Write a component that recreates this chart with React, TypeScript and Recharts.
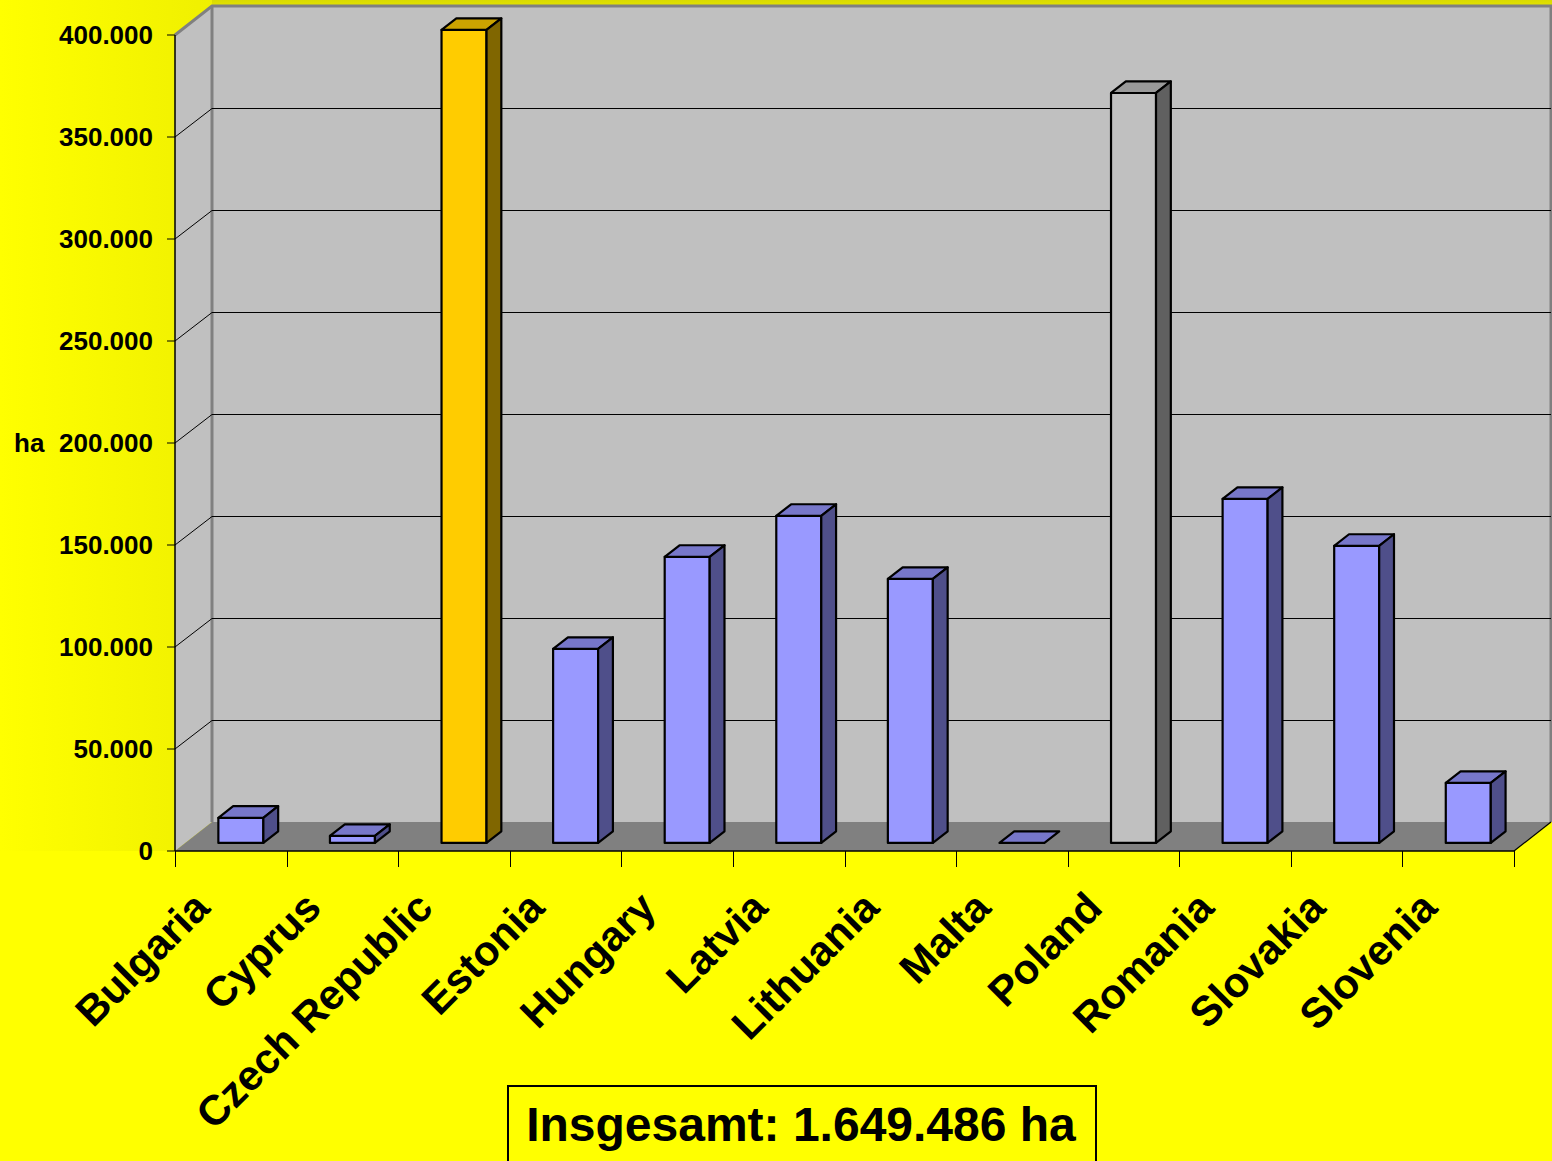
import { BarChart, Bar, XAxis, YAxis, CartesianGrid } from 'recharts';

const countries = [
  'Bulgaria', 'Cyprus', 'Czech Republic', 'Estonia', 'Hungary', 'Latvia',
  'Lithuania', 'Malta', 'Poland', 'Romania', 'Slovakia', 'Slovenia',
];
const hectares = [12300, 3400, 398500, 95100, 140200, 160300, 129400, 0, 367600, 168600, 145600, 29400];
const yTicks = [0, 50000, 100000, 150000, 200000, 250000, 300000, 350000, 400000];
const unitLabel = 'ha';
const totalLabel = 'Insgesamt: 1.649.486 ha';

const data = countries.map((country, i) => ({ country, value: hectares[i] }));

const W = 1552;
const H = 1161;
const FONT = '"Liberation Sans", Arial, Helvetica, sans-serif';

// fake 3d: wall depth and where the boxes sit inside it
const DX = 37;
const DY = 29;
const NEAR = 0.28;
const FAR = 0.68;

const WALL = '#C0C0C0';
const FLOOR = '#808080';
const EDGE = '#808080';

const blue = { front: '#9999FF', top: '#7777CA', side: '#4F4F8A' };
const palette: Record<string, { front: string; top: string; side: string }> = {
  'Czech Republic': { front: '#FFCC00', top: '#CCA300', side: '#806600' },
  Poland: { front: '#C0C0C0', top: '#9A9A9A', side: '#606060' },
};

const fmt = (v: number) => String(v).replace(/\B(?=(\d{3})+(?!\d))/g, '.');
const crisp = (v: number) => Math.round(v) + 0.5;

function Box(props: any) {
  const { x, y, width, height, index } = props;
  const c = palette[countries[index]] ?? blue;
  const h = Math.max(height || 0, 0);
  const fx = x + DX * NEAR;
  const fy = y - DY * NEAR;
  const dx = DX * (FAR - NEAR);
  const dy = DY * (FAR - NEAR);
  const r = fx + width;
  return (
    <g stroke="#000" strokeWidth={2.2} strokeLinejoin="round">
      {h > 0 && <rect x={fx} y={fy} width={width} height={h} fill={c.front} />}
      <polygon points={`${fx},${fy} ${fx + dx},${fy - dy} ${r + dx},${fy - dy} ${r},${fy}`} fill={c.top} />
      {h > 0 && (
        <polygon points={`${r},${fy} ${r + dx},${fy - dy} ${r + dx},${fy + h - dy} ${r},${fy + h}`} fill={c.side} />
      )}
    </g>
  );
}

// grid lines go onto the back wall; the first call also paints the walls and floor
function gridLine(props: any) {
  const { x1, y1, x2, x, y, width, height, index } = props;
  const left = x;
  const right = x + width;
  const top = y;
  const bottom = y + height;
  const by = crisp(y1 - DY);
  return (
    <g key={`gl-${index}`}>
      {index === 0 && (
        <g>
          <rect x={left + DX} y={top - DY} width={width} height={height} fill={WALL} />
          <polygon
            points={`${left},${top} ${left + DX},${top - DY} ${left + DX},${bottom - DY} ${left},${bottom}`}
            fill={WALL}
          />
          <polyline
            points={`${left},${top} ${left + DX},${top - DY} ${right + DX},${top - DY} ${right + DX},${bottom - DY}`}
            fill="none"
            stroke={EDGE}
            strokeWidth={3}
          />
          <line x1={left + DX} y1={top - DY} x2={left + DX} y2={bottom - DY} stroke={EDGE} strokeWidth={3} />
          <polygon
            points={`${left},${bottom} ${left + DX},${bottom - DY} ${right + DX},${bottom - DY} ${right},${bottom}`}
            fill={FLOOR}
          />
          <line x1={right} y1={bottom} x2={right + DX} y2={bottom - DY} stroke="#000" strokeWidth={1.2} />
        </g>
      )}
      {y1 > top + 0.5 && y1 < bottom - 0.5 && (
        <g stroke="#000" strokeWidth={1}>
          <line x1={x1} y1={y1} x2={x1 + DX} y2={by} />
          <line x1={x1 + DX} y1={by} x2={x2 + DX} y2={by} />
        </g>
      )}
    </g>
  );
}

function CountryTick(props: any) {
  const { y, payload, index, width } = props;
  const cx = payload.coordinate;
  const half = payload.offset || width / countries.length / 2;
  const tx = cx - 19;
  const ty = y + 59;
  return (
    <g>
      <line x1={crisp(cx - half)} y1={y} x2={crisp(cx - half)} y2={y + 16} stroke="#000" />
      {index === countries.length - 1 && (
        <line x1={crisp(cx + half)} y1={y} x2={crisp(cx + half)} y2={y + 16} stroke="#000" />
      )}
      <text
        x={tx}
        y={ty}
        transform={`rotate(-45 ${tx} ${ty})`}
        textAnchor="end"
        fill="#000"
        fontSize={42}
        fontWeight={700}
        fontFamily={FONT}
      >
        {payload.value}
      </text>
    </g>
  );
}

export default function App() {
  return (
    <div
      style={{
        position: 'absolute',
        left: 0,
        top: 0,
        width: W,
        height: H,
        overflow: 'hidden',
        background:
          'linear-gradient(90deg, #FFFF00 0px, #F0F000 212px) 0 0 / 212px 851px no-repeat, linear-gradient(180deg, #DADA00, #E6E600) 212px 0 / 1340px 8px no-repeat, #FFFF00',
      }}
    >
      <BarChart width={W} height={H} data={data} margin={{ top: 35, right: 38, left: 0, bottom: 0 }}>
        <CartesianGrid vertical={false} horizontal={gridLine} />
        <XAxis
          dataKey="country"
          interval={0}
          height={310}
          tickLine={false}
          tickSize={0}
          tickMargin={0}
          axisLine={{ stroke: '#000', strokeWidth: 1.5 }}
          tick={CountryTick}
        />
        <YAxis
          width={175}
          domain={[0, 400000]}
          ticks={yTicks}
          interval={0}
          tickFormatter={fmt}
          tickSize={8}
          tickMargin={14}
          tickLine={{ stroke: '#000' }}
          axisLine={{ stroke: '#000', strokeWidth: 1.5 }}
          tick={{ fill: '#000', fontSize: 26, fontWeight: 700, fontFamily: FONT }}
          label={{
            value: unitLabel,
            position: 'insideLeft',
            offset: 14,
            fill: '#000',
            fontSize: 26,
            fontWeight: 700,
            fontFamily: FONT,
          }}
        />
        <Bar dataKey="value" barSize={45} shape={Box} isAnimationActive={false} />
      </BarChart>
      <svg width={W} height={H} style={{ position: 'absolute', left: 0, top: 0, pointerEvents: 'none' }}>
        <rect x={508} y={1086} width={588} height={120} fill="none" stroke="#000" strokeWidth={2} />
        <text x={801} y={1141} textAnchor="middle" fontSize={48} fontWeight={700} fontFamily={FONT} fill="#000">
          {totalLabel}
        </text>
      </svg>
    </div>
  );
}
